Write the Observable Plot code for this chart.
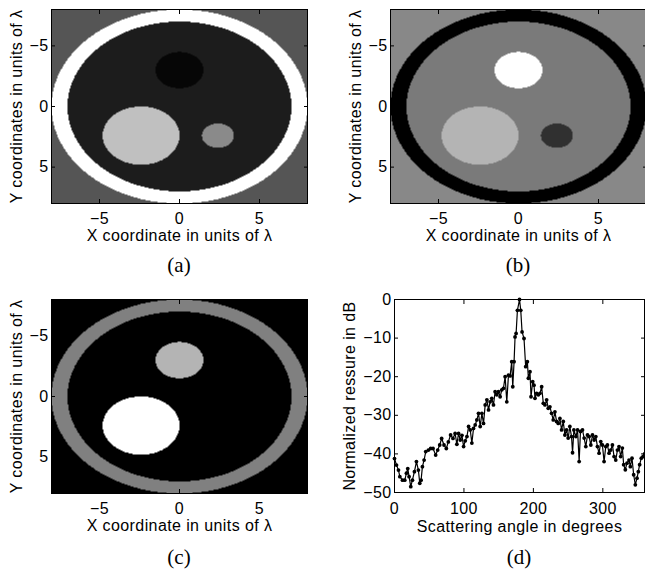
<!DOCTYPE html>
<html>
<head>
<meta charset="utf-8">
<script src="https://cdn.jsdelivr.net/npm/d3@7"></script>
<script src="https://cdn.jsdelivr.net/npm/@observablehq/plot@0.6"></script>
<style>
  html, body { margin: 0; padding: 0; background: #fff; }
  #fig { position: relative; width: 645px; height: 574px; overflow: hidden; background: #fff; }
  .panel { position: absolute; letter-spacing: 0.4px; }
  .cap { position: absolute; font-family: "Liberation Serif", "DejaVu Serif", serif; font-size: 21px; color: #000; transform: translate(-50%, -50%); white-space: nowrap; }
</style>
</head>
<body>
<div id="fig"></div>
<script>
// ---- phantom geometry (units of lambda) ----
const coordDomain = [-8, 8];
const coordTicks = [-5, 0, 5];
const ringOuter = 8;
const ringInner = 7;
const diskX = [0, -2.4, 2.4];
const diskY = [-3, 2.4, 2.4];
const diskR = [1.5, 2.4, 1.0];
// grey levels: background, ring, interior, top disk, left disk, right disk
const grayA = [85, 255, 28, 6, 192, 138];
const grayB = [136, 0, 122, 255, 180, 48];
const grayC = [0, 128, 0, 180, 255, 0];

// ---- far-field pattern (panel d) ----
const angleDeg = [0, 2.9, 5.7, 7.7, 11.5, 14.8, 17.2, 19.1, 21.0, 23.4, 25.8, 28.7, 31.6, 34.4, 36.4, 38.3, 40.2, 42.6, 45.0, 48.8, 52.1, 55.5, 59.3, 62.2, 65.1, 67.9, 71.3, 74.6, 77.5, 80.8, 84.2, 87.3, 89.8, 92.3, 94.7, 97.1, 99.5, 101.9, 104.3, 106.7, 109.1, 111.4, 113.8, 116.2, 118.6, 121.0, 123.4, 125.8, 128.2, 130.6, 133.0, 135.4, 137.7, 140.1, 142.5, 144.9, 147.3, 149.7, 152.1, 154.5, 156.9, 159.3, 161.7, 164.1, 166.5, 168.8, 170.3, 172.2, 173.6, 175.1, 177.0, 180.0, 181.8, 183.7, 186.5, 188.9, 191.3, 192.8, 195.1, 196.6, 199.0, 200.9, 202.3, 204.7, 207.1, 209.5, 211.9, 214.3, 216.7, 219.1, 221.4, 223.8, 226.2, 228.6, 231.0, 233.4, 235.8, 238.2, 240.6, 243.0, 245.4, 247.8, 250.1, 252.5, 254.9, 256.4, 258.3, 261.2, 263.6, 265.9, 267.8, 270.7, 273.1, 275.5, 277.9, 280.3, 282.7, 285.1, 287.5, 289.9, 292.2, 294.6, 297.0, 299.4, 301.8, 304.2, 306.6, 309.0, 311.4, 313.8, 316.2, 318.6, 321.0, 323.3, 325.7, 328.1, 330.0, 332.4, 334.8, 337.7, 339.6, 342.0, 344.4, 346.8, 349.2, 351.1, 353.0, 355.4, 357.8, 360.0];
const pressureDb = [-41.2, -42.9, -44.2, -45.9, -46.8, -46.8, -45.0, -43.8, -45.9, -48.5, -46.8, -44.6, -42.0, -44.2, -47.6, -46.8, -43.3, -41.6, -39.4, -39.0, -38.6, -38.6, -40.3, -39.0, -37.7, -36.0, -37.7, -38.6, -36.9, -35.1, -36.0, -34.7, -37.5, -34.7, -36.4, -35.2, -38.1, -36.6, -35.5, -32.9, -33.8, -37.2, -33.4, -32.5, -31.2, -29.5, -32.9, -29.5, -32.1, -27.3, -26.0, -28.6, -26.5, -25.6, -27.3, -23.9, -24.7, -23.9, -25.2, -23.4, -23.0, -20.0, -26.5, -19.6, -19.8, -16.1, -22.6, -16.1, -9.7, -8.8, -2.8, 0, -2.8, -8.4, -10.1, -17.4, -16.1, -20.4, -18.7, -25.2, -21.3, -22.2, -25.6, -24.3, -24.7, -24.3, -22.6, -26.9, -27.3, -26.0, -28.2, -27.8, -29.5, -31.2, -29.1, -31.6, -32.1, -30.8, -33.8, -31.6, -35.1, -33.8, -35.9, -32.9, -35.5, -39.7, -33.8, -35.5, -33.8, -42.0, -34.2, -33.8, -35.9, -38.1, -35.1, -35.5, -37.7, -35.1, -36.4, -35.5, -38.1, -39.8, -36.8, -37.7, -42.0, -38.1, -37.7, -39.8, -39.0, -37.7, -40.7, -41.6, -39.0, -38.1, -40.7, -38.5, -42.8, -44.1, -42.4, -41.6, -43.3, -41.1, -45.4, -48.0, -46.3, -44.6, -42.8, -41.1, -40.7, -40.0];
const angleTicks = [0, 100, 200, 300];
const dbTicks = [-50, -40, -30, -20, -10, 0];

const FONT = {fontFamily: "'Liberation Sans', Arial, sans-serif", fontSize: "16px", color: "#000", background: "transparent"};

function phantomPanel(grays) {
  const fillFn = (x, y) => {
    const r = Math.hypot(x, y);
    let g = grays[0];
    if (r <= ringOuter) g = grays[1];
    if (r <= ringInner) g = grays[2];
    for (let i = 0; i < diskX.length; i++) {
      if (Math.hypot(x - diskX[i], y - diskY[i]) <= diskR[i]) g = grays[3 + i];
    }
    return g;
  };
  return Plot.plot({
    width: 330, height: 260,
    marginLeft: 51, marginRight: 23, marginTop: 9, marginBottom: 57,
    style: FONT,
    x: {domain: coordDomain},
    y: {domain: coordDomain, reverse: true},
    color: {type: "linear", domain: [0, 255], range: ["#000000", "#ffffff"]},
    marks: [
      Plot.raster({fill: fillFn, x1: coordDomain[0], x2: coordDomain[1], y1: coordDomain[0], y2: coordDomain[1], pixelSize: 1}),
      Plot.frame({stroke: "#000"}),
      Plot.axisX(coordTicks, {anchor: "bottom", tickSize: -4, tickPadding: 13, label: "X coordinate in units of λ", labelAnchor: "center", labelOffset: 37, labelArrow: "none"}),
      Plot.axisX(coordTicks, {anchor: "top", tickSize: -4, tickFormat: () => "", label: null}),
      Plot.axisY(coordTicks, {anchor: "left", tickSize: -4, tickPadding: 7, label: "Y coordinates in units of λ", labelAnchor: "center", labelOffset: 41, labelArrow: "none"}),
      Plot.axisY(coordTicks, {anchor: "right", tickSize: -4, tickFormat: () => "", label: null})
    ]
  });
}

function patternPanel() {
  const pts = angleDeg.map((a, i) => ({angle: a, db: pressureDb[i]}));
  return Plot.plot({
    width: 315, height: 260,
    marginLeft: 64, marginRight: 1, marginTop: 19, marginBottom: 48,
    style: FONT,
    x: {domain: [0, 360]},
    y: {domain: [-50, 0]},
    marks: [
      Plot.frame({stroke: "#000"}),
      Plot.line(pts, {x: "angle", y: "db", stroke: "#000", strokeWidth: 1.2}),
      Plot.dot(pts, {x: "angle", y: "db", r: 1.9, fill: "#000"}),
      Plot.axisX(angleTicks, {anchor: "bottom", tickSize: -4, tickPadding: 14, label: "Scattering angle in degrees", labelAnchor: "center", labelOffset: 39, labelArrow: "none"}),
      Plot.axisX(angleTicks, {anchor: "top", tickSize: -4, tickFormat: () => "", label: null}),
      Plot.axisY(dbTicks, {anchor: "left", tickSize: -4, tickPadding: 7, label: "Normalized ressure in dB", labelAnchor: "center", labelOffset: 51, labelArrow: "none"}),
      Plot.axisY(dbTicks, {anchor: "right", tickSize: -4, tickFormat: () => "", label: null})
    ]
  });
}

const fig = document.getElementById("fig");
function place(node, left, top) {
  node.classList.add("panel");
  node.style.left = left + "px";
  node.style.top = top + "px";
  fig.appendChild(node);
}
function caption(text, cx, cy) {
  const d = document.createElement("div");
  d.className = "cap";
  d.textContent = text;
  d.style.left = cx + "px";
  d.style.top = cy + "px";
  fig.appendChild(d);
}

place(phantomPanel(grayA), 0, 0);
place(phantomPanel(grayB), 339, 0);
place(phantomPanel(grayC), 0, 290);
place(patternPanel(), 330, 280);
caption("(a)", 179, 265);
caption("(b)", 518, 265);
caption("(c)", 179, 557);
caption("(d)", 519, 557);
</script>
</body>
</html>
